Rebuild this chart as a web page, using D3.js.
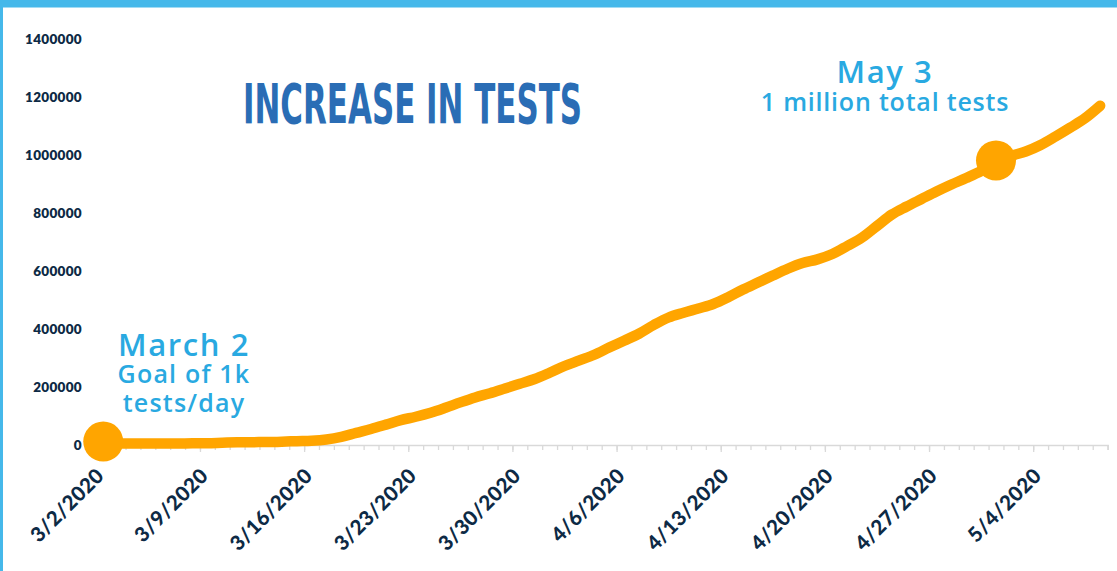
<!DOCTYPE html>
<html>
<head>
<meta charset="utf-8">
<script src="https://cdn.jsdelivr.net/npm/d3@7/dist/d3.min.js"></script>
<style>
    body { margin: 0; background: #fff; }
    svg { display: block; }
</style>
</head>
<body>
<div id="chart"></div>
<script>
// cumulative tests, one value per day starting 3/2/2020
var startDay = "2020-03-02";
var endDay = "2020-05-09";
var totalTests = [
    5000, 5000, 5000, 5200, 5500, 5500, 5700, 6000, 7800, 9500,
    9800, 10200, 11500, 13300, 14700, 19000, 28100, 41900, 55200, 70300,
    85900, 97400, 111200, 128400, 146900, 164100, 178500, 194800, 211200, 227600,
    249100, 272400, 291700, 311200, 335800, 359500, 383600, 413800, 439700, 456000,
    470700, 486200, 509500, 536200, 560300, 584500, 607800, 627200, 640100, 658600,
    686200, 715500, 755200, 794800, 822400, 848300, 874100, 898300, 920700, 944800,
    974100, 996500, 1012100, 1034500, 1063800, 1094800, 1127600, 1170000
];
var yTicks = [0, 200000, 400000, 600000, 800000, 1000000, 1200000, 1400000];
var weekTicks = ["2020-03-02", "2020-03-09", "2020-03-16", "2020-03-23", "2020-03-30",
    "2020-04-06", "2020-04-13", "2020-04-20", "2020-04-27", "2020-05-04"];
var title = "INCREASE IN TESTS";
var marchNote = ["March 2", "Goal of 1k", "tests/day"];
var mayNote = ["May 3", "1 million total tests"];
var markerDays = ["2020-03-02", "2020-05-01"];

(function () {
    var width = 1117, height = 571;
    var parse = d3.utcParse("%Y-%m-%d");
    var fmt = d3.utcFormat("%-m/%-d/%Y");

    var days = totalTests.map(function (v, i) {
        return {date: d3.utcDay.offset(parse(startDay), i), value: v};
    });

    var svg = d3.select("#chart").append("svg")
        .attr("width", width)
        .attr("height", height);

    // frame
    svg.append("rect").attr("x", 0).attr("y", 0).attr("width", width).attr("height", 7.5).attr("fill", "#45b8ea");
    svg.append("rect").attr("x", 0).attr("y", 0).attr("width", 3).attr("height", height).attr("fill", "#45b8ea");

    var x = d3.scaleUtc()
        .domain([parse(startDay), parse(endDay)])
        .range([95.8, 1107.6]);
    var y = d3.scaleLinear()
        .domain([0, 1400000])
        .range([445, 39]);

    // points sit in the middle of each day
    var px = function (d) { return x(d3.utcHour.offset(d.date, 12)); };

    // y labels
    var yAxis = svg.append("g")
        .attr("transform", "translate(82,0)")
        .call(d3.axisLeft(y).tickValues(yTicks).tickSize(0).tickPadding(0).tickFormat(d3.format("d")));
    yAxis.select(".domain").remove();
    yAxis.selectAll("text")
        .attr("dy", "0.36em")
        .style("font-family", "Lato, sans-serif")
        .style("font-weight", 800)
        .style("font-size", "13.5px")
        .style("letter-spacing", "0.3px")
        .attr("fill", "#0d2a45");

    // x axis: minor day ticks
    var minor = svg.append("g")
        .attr("transform", "translate(0,445)")
        .call(d3.axisBottom(x).ticks(d3.utcDay.every(1)).tickSize(5).tickFormat(""));
    minor.select(".domain").attr("stroke", "#d9d9d9").attr("stroke-width", 1.5);
    minor.selectAll(".tick line").attr("stroke", "#d9d9d9").attr("stroke-width", 1.3);

    // weekly ticks with labels
    var major = svg.append("g")
        .attr("transform", "translate(0,445)")
        .call(d3.axisBottom(x).tickValues(weekTicks.map(parse)).tickSize(7).tickFormat(fmt));
    major.select(".domain").remove();
    major.selectAll(".tick line").attr("stroke", "#d9d9d9").attr("stroke-width", 1.3);
    major.selectAll("text")
        .attr("text-anchor", "end")
        .attr("dy", null)
        .attr("y", 0)
        .attr("transform", "translate(9,32) rotate(-45)")
        .style("font-family", "Lato, sans-serif")
        .style("font-weight", 900)
        .style("font-size", "20.5px")
        .style("letter-spacing", "0.4px")
        .attr("fill", "#0d2a45");

    // line
    var line = d3.line()
        .x(px)
        .y(function (d) { return y(d.value); })
        .curve(d3.curveMonotoneX);

    svg.append("path")
        .datum(days)
        .attr("d", line)
        .attr("fill", "none")
        .attr("stroke", "#ffa500")
        .attr("stroke-width", 10.5)
        .attr("stroke-linejoin", "round")
        .attr("stroke-linecap", "round");

    // markers
    var marks = days.filter(function (d) {
        return markerDays.indexOf(d3.utcFormat("%Y-%m-%d")(d.date)) >= 0;
    });
    svg.selectAll(".marker")
        .data(marks)
        .enter().append("circle")
        .attr("class", "marker")
        .attr("cx", px)
        .attr("cy", function (d) { return y(d.value) - 2; })
        .attr("r", 20)
        .attr("fill", "#ffa500");

    // title
    svg.append("text")
        .attr("x", 243)
        .attr("y", 123)
        .attr("textLength", 339)
        .attr("lengthAdjust", "spacingAndGlyphs")
        .style("font-family", "'Liberation Sans Narrow', 'DejaVu Sans Condensed', 'DejaVu Sans', sans-serif")
        .style("font-weight", 700)
        .style("font-stretch", "condensed")
        .style("font-size", "56px")
        .attr("fill", "#2a6db5")
        .text(title);

    // annotations
    function note(lines, cx, baselines, sizes, spacing) {
        var t = svg.append("g");
        lines.forEach(function (s, i) {
            t.append("text")
                .attr("x", cx)
                .attr("y", baselines[i])
                .attr("text-anchor", "middle")
                .style("font-family", "'Open Sans', sans-serif")
                .style("font-weight", 600)
                .style("font-size", sizes[i] + "px")
                .style("letter-spacing", spacing[i] + "px")
                .attr("fill", "#29a9e1")
                .text(s);
        });
    }
    note(marchNote, 184, [356, 383, 412], [31, 25, 25], [1.6, 1.2, 1.2]);
    note(mayNote, 885, [83, 111], [31, 25], [1.6, 0.8]);
})();
</script>
</body>
</html>
